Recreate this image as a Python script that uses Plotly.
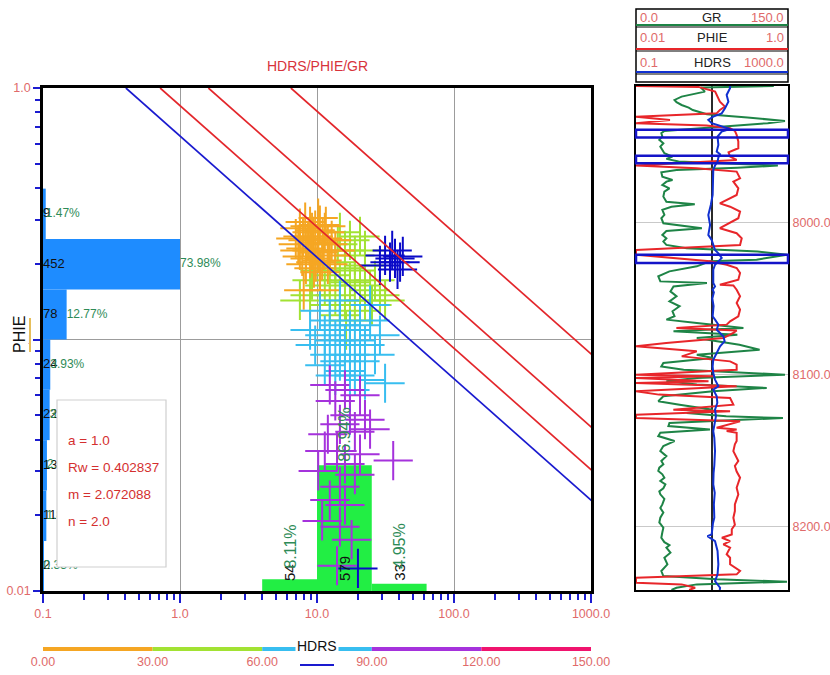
import numpy as np
import plotly.graph_objects as go

W, H = 830, 675
FONT = "Liberation Sans, Arial"
LABEL_RED = "#E06A6A"
TITLE_RED = "#D8333B"
TEXT_RED = "#D42F2F"
TICK_BLUE = "#1C1CD0"
GRID = "#9C9C9C"
PCT_GREEN = "#2E8B57"

# ---------------- Archie / Pickett parameters ----------------
a_param = 1.0
rw = 0.402837
m_exp = 2.072088
n_exp = 2.0
sw_lines = [1.0, 0.75, 0.5, 0.25]

# ---------------- crossplot samples (HDRS ohm.m, PHIE v/v, GR API) ----------------
hdrs_pts = [
    14.7, 17.4, 20.6, 16.0, 18.9, 13.6, 16.0, 18.9, 22.4, 12.4, 14.7, 17.4, 20.6, 24.4, 26.5, 28.8, 11.4,
    8.9, 7.5, 13.6, 16.0, 18.9, 22.4, 14.7, 17.4, 20.6, 12.4, 10.5, 14.2, 22.4, 9.2, 25.2, 31.4, 16.3,
    7.5, 8.2, 8.9, 9.7, 10.5, 11.4, 7.9, 8.6, 9.4, 10.2, 11.0, 12.0, 7.3, 8.3, 9.2, 10.2, 11.2, 12.4,
    7.8, 8.9, 9.8, 10.9, 12.0, 9.5, 10.5, 8.3, 7.5, 7.0, 12.8, 10.2, 9.2, 11.6, 10.5, 8.0, 13.6,
    10.5, 12.4, 14.7, 17.4, 20.6, 24.4, 11.4, 13.6, 16.0, 18.9, 22.4, 9.7, 8.9, 12.4, 14.7, 17.4,
    20.6, 26.5, 16.0, 18.9, 13.6, 31.4, 22.4, 17.4, 11.4, 28.8, 24.4, 14.7,
    12.4, 16.0, 20.6, 13.6, 17.4, 22.4, 14.7, 18.9, 24.4, 12.0, 14.0, 11.4, 36.0, 18.9, 14.7, 12.4,
    16.0, 10.9, 14.7, 17.9, 14.0, 10.2, 20.6, 16.0,
]
phie_pts = [
    0.267, 0.248, 0.257, 0.226, 0.216, 0.203, 0.192, 0.188, 0.197, 0.180, 0.172, 0.169, 0.164, 0.157,
    0.172, 0.150, 0.164, 0.150, 0.143, 0.150, 0.143, 0.137, 0.143, 0.125, 0.119, 0.130, 0.137, 0.188,
    0.239, 0.226, 0.172, 0.137, 0.143, 0.109,
    0.277, 0.293, 0.282, 0.272, 0.285, 0.267, 0.257, 0.248, 0.257, 0.243, 0.252, 0.239, 0.239, 0.230,
    0.226, 0.222, 0.226, 0.216, 0.214, 0.210, 0.203, 0.206, 0.199, 0.192, 0.185, 0.199, 0.226, 0.252,
    0.248, 0.304, 0.267, 0.282, 0.157, 0.157, 0.226,
    0.130, 0.119, 0.114, 0.109, 0.114, 0.119, 0.104, 0.099, 0.095, 0.099, 0.095, 0.095, 0.109, 0.087,
    0.082, 0.087, 0.082, 0.087, 0.075, 0.072, 0.072, 0.067, 0.069, 0.063, 0.079, 0.104, 0.137, 0.143,
    0.066, 0.063, 0.060, 0.057, 0.050, 0.048, 0.046, 0.043, 0.044, 0.042, 0.036, 0.036, 0.033, 0.029,
    0.026, 0.023, 0.022, 0.019, 0.018, 0.016, 0.0126, 0.030, 0.035, 0.032,
]
gr_pts = [
    35, 40, 38, 42, 45, 33, 37, 48, 50, 36, 41, 44, 52, 55, 49, 57, 34, 39, 46, 43, 51, 47, 54, 53, 58,
    56, 32, 31, 36, 44, 38, 59, 52, 57,
    18, 15, 20, 22, 17, 24, 19, 21, 16, 23, 25, 27, 14, 18, 20, 22, 26, 28, 17, 21, 24, 26, 28, 25, 27,
    23, 19, 13, 26, 14, 17, 21, 28, 27, 29,
    65, 70, 68, 75, 80, 72, 78, 66, 83, 71, 85, 62, 74, 77, 81, 69, 86, 73, 79, 84, 67, 76, 88, 82, 64,
    70, 63, 61,
    95, 100, 105, 98, 110, 102, 96, 112, 107, 104, 115, 99, 118, 108, 101, 113, 97, 106, 111, 103, 109,
    116, 94, 117,
]

# samples from the highlighted intervals
zone_hdrs = [31.4, 34.1, 37.1, 40.4, 42.3, 35.4, 28.8, 38.7, 19.9]
zone_phie = [0.216, 0.203, 0.210, 0.203, 0.214, 0.226, 0.197, 0.190, 0.0123]

# ---------------- histograms ----------------
phie_bin_edges = [0.01, 0.0158, 0.0251, 0.0398, 0.0631, 0.1, 0.158, 0.251, 0.398]
phie_counts = [2, 11, 13, 22, 24, 78, 452, 9]
hdrs_bin_edges = [3.98, 10.0, 25.1, 63.1]
hdrs_counts = [54, 579, 33]

# ---------------- GR colour classes ----------------
gr_class_bounds = [0, 30, 60, 90, 120, 150]
gr_class_colors = ["#F5A623", "#A2E233", "#38BEF0", "#A532DC", "#F0146E"]

# ---------------- well log curves (depth ft, value) ----------------
gr_log = [
    (7910.0, 136), (7911.0, 64), (7913.7, 68), (7914.8, 60), (7917.0, 45), (7919.2, 38), (7920.7, 40),
    (7922.5, 45), (7924.2, 52), (7925.8, 56), (7927.3, 65), (7928.6, 70), (7930.8, 110), (7933.0, 147),
    (7934.5, 130), (7936.1, 100), (7937.8, 60), (7939.6, 28), (7941.1, 25), (7943.3, 26), (7945.5, 23),
    (7947.7, 27), (7949.9, 24), (7952.1, 26), (7954.3, 28), (7956.5, 36), (7958.0, 30), (7959.8, 42),
    (7961.3, 90), (7962.4, 140), (7963.8, 100), (7965.3, 40), (7966.8, 25), (7969.7, 26), (7971.9, 36),
    (7973.0, 30), (7975.2, 26), (7977.4, 33), (7979.6, 28), (7982.9, 27), (7986.2, 30), (7987.9, 58),
    (7989.5, 35), (7991.6, 26), (7994.9, 28), (7997.1, 25), (8000.4, 27), (8003.7, 65), (8005.5, 30),
    (8008.1, 26), (8010.3, 30), (8012.5, 27), (8014.7, 30), (8016.9, 50), (8019.1, 120), (8021.1, 149),
    (8024.4, 119), (8025.5, 73), (8028.8, 60), (8032.1, 33), (8035.4, 22), (8038.7, 24), (8039.8, 70),
    (8042.0, 37), (8045.3, 34), (8048.5, 40), (8051.9, 33), (8055.1, 43), (8058.4, 36), (8061.7, 38),
    (8063.9, 30), (8065.0, 43), (8066.1, 60), (8069.4, 106), (8071.6, 37), (8073.8, 100), (8076.0, 60),
    (8078.2, 80), (8080.4, 102), (8083.7, 122), (8087.0, 60), (8089.2, 76), (8092.5, 27), (8094.7, 25),
    (8096.9, 47), (8100.2, 147), (8102.3, 60), (8104.5, 30), (8106.7, 60), (8108.9, 129), (8111.1, 76),
    (8114.4, 27), (8117.7, 22), (8119.9, 43), (8123.2, 76), (8125.4, 50), (8127.6, 89), (8128.7, 145),
    (8130.9, 60), (8132.0, 33), (8134.0, 32), (8136.2, 73), (8138.4, 24), (8140.6, 22), (8143.9, 38),
    (8147.2, 27), (8150.5, 24), (8153.8, 30), (8157.0, 25), (8159.2, 27), (8161.4, 23), (8163.6, 22),
    (8165.8, 26), (8168.0, 28), (8170.2, 24), (8172.4, 29), (8175.0, 27), (8177.0, 23), (8179.0, 24),
    (8182.0, 28), (8185.6, 26), (8188.0, 24), (8191.0, 27), (8194.4, 24), (8197.5, 23), (8201.0, 27),
    (8204.0, 26), (8207.6, 25), (8210.5, 28), (8212.5, 33), (8214.1, 30), (8217.4, 34), (8220.7, 28),
    (8225.1, 31), (8229.5, 25), (8232.8, 27), (8235.0, 80), (8236.5, 149), (8238.3, 60), (8240.5, 40),
    (8242.0, 35),
]
phie_log = [
    (7910.0, 0.01), (7910.6, 0.066), (7913.7, 0.11), (7915.9, 0.115), (7918.1, 0.12), (7920.3, 0.127),
    (7923.6, 0.148), (7925.8, 0.127), (7928.0, 0.115), (7930.2, 0.01), (7932.4, 0.028), (7934.5, 0.01),
    (7936.1, 0.085), (7937.8, 0.173), (7939.6, 0.2), (7942.2, 0.211), (7946.5, 0.222), (7951.0, 0.222),
    (7953.7, 0.165), (7956.5, 0.173), (7958.7, 0.211), (7960.9, 0.038), (7962.4, 0.01), (7964.2, 0.063),
    (7966.4, 0.211), (7970.8, 0.234), (7973.0, 0.191), (7977.4, 0.222), (7981.8, 0.211), (7987.3, 0.127),
    (7989.5, 0.173), (7992.7, 0.234), (7997.1, 0.222), (8003.7, 0.127), (8007.0, 0.211), (8010.3, 0.246),
    (8014.7, 0.234), (8018.0, 0.01), (8021.1, 0.01), (8025.5, 0.094), (8027.7, 0.156), (8029.9, 0.211),
    (8033.2, 0.234), (8037.6, 0.222), (8040.9, 0.127), (8041.4, 0.191), (8044.2, 0.211), (8048.5, 0.234),
    (8052.9, 0.211), (8057.3, 0.234), (8061.7, 0.222), (8065.0, 0.173), (8067.2, 0.156), (8069.4, 0.034),
    (8071.0, 0.211), (8072.7, 0.191), (8076.0, 0.141), (8079.3, 0.025), (8081.5, 0.01), (8084.8, 0.063),
    (8088.1, 0.04), (8091.4, 0.173), (8093.6, 0.211), (8096.9, 0.211), (8100.2, 0.01), (8101.2, 0.104),
    (8102.3, 0.01), (8104.5, 0.09), (8105.6, 0.01), (8107.8, 0.211), (8111.1, 0.01), (8113.3, 0.02),
    (8115.5, 0.173), (8119.9, 0.191), (8123.2, 0.031), (8124.3, 0.173), (8126.5, 0.01), (8128.7, 0.01),
    (8130.9, 0.234), (8135.1, 0.115), (8136.2, 0.211), (8137.3, 0.156), (8138.4, 0.211), (8143.9, 0.211),
    (8146.0, 0.2), (8150.5, 0.191), (8154.9, 0.211), (8157.0, 0.222), (8160.3, 0.2), (8164.0, 0.211),
    (8168.0, 0.234), (8171.0, 0.222), (8174.6, 0.211), (8179.0, 0.222), (8182.0, 0.211), (8185.6, 0.2),
    (8190.0, 0.2), (8194.4, 0.191), (8199.0, 0.2), (8202.0, 0.182), (8205.4, 0.182), (8207.6, 0.135),
    (8209.8, 0.173), (8212.0, 0.141), (8214.1, 0.173), (8218.5, 0.156), (8220.7, 0.173), (8225.1, 0.173),
    (8229.5, 0.234), (8231.7, 0.211), (8234.0, 0.01), (8237.2, 0.01), (8238.3, 0.04), (8240.5, 0.06),
    (8242.0, 0.05),
]
hdrs_log = [
    (7910.0, 29.8), (7911.5, 29.8), (7915.9, 24.3), (7920.3, 27), (7924.7, 22), (7928.0, 18),
    (7930.2, 10.8), (7932.4, 8.0), (7934.5, 9.8), (7936.7, 19.9), (7938.3, 29.8), (7940.0, 18),
    (7943.3, 14), (7948.8, 14.7), (7953.2, 13.3), (7955.0, 16.3), (7957.2, 14.7), (7959.8, 14),
    (7962.4, 12), (7965.3, 10.8), (7973.0, 10.8), (7981.8, 10.4), (7988.4, 9.3), (7995.0, 8.0),
    (8001.5, 8.9), (8008.1, 8.0), (8011.4, 9.8), (8014.7, 10.8), (8018.0, 12), (8020.2, 14.7),
    (8023.3, 18), (8025.5, 14.7), (8027.7, 12), (8031.0, 10.8), (8039.8, 10.8), (8042.0, 12),
    (8044.2, 10.4), (8046.0, 11.2), (8050.0, 10.2), (8055.0, 11.0), (8061.7, 10.4), (8063.9, 12),
    (8067.2, 14.7), (8070.5, 13.3), (8074.9, 19.9), (8078.2, 21.5), (8081.5, 16.3), (8085.9, 13.3),
    (8090.3, 10.8), (8094.7, 10.4), (8099.1, 10.8), (8103.4, 12), (8107.8, 14.7), (8110.0, 10.8),
    (8114.4, 13.3), (8118.8, 13.8), (8123.2, 12), (8127.6, 12.7), (8132.0, 12), (8137.3, 10.8),
    (8141.7, 11.5), (8150.5, 12), (8160.0, 11.5), (8165.0, 11.0), (8172.4, 10.8), (8178.0, 11.8),
    (8185.6, 11.2), (8194.4, 11.5), (8198.0, 10.6), (8205.4, 9.8), (8206.5, 7.6), (8209.8, 12),
    (8216.3, 14), (8225.1, 14.7), (8231.7, 14), (8236.1, 12), (8240.5, 16.3), (8242.0, 16),
]
zone_top = [7938.9, 7955.9, 8021.1]
zone_base = [7944.0, 7960.9, 8026.6]
depth_range = [7910, 8242]
depth_ticks = [8000, 8100, 8200]

curve_names = ["GR", "PHIE", "HDRS"]
curve_lo = ["0.0", "0.01", "0.1"]
curve_hi = ["150.0", "1.0", "1000.0"]
curve_colors = ["#1E8446", "#E8262A", "#1030D0"]


# ---------------- helpers: pixel -> paper ----------------
def fx(px):
    return px / W


def fy(py):
    return 1 - py / H


XL, XR, YT, YB = 43, 591, 88, 591          # Pickett plot frame
TL, TR, TT, TB = 636, 788, 86, 590         # log track frame
XD = [fx(XL), fx(XR)]
YD = [fy(YB), fy(YT)]
plot_h = YB - YT

fig = go.Figure()

# anchor trace so the main log-log subplot exists underneath the overlays
fig.add_trace(go.Scatter(x=[1], y=[0.1], mode="markers", marker=dict(opacity=0),
                         xaxis="x", yaxis="y", hoverinfo="skip"))

# ---- PHIE histogram (horizontal bars) ----
pe = np.log10(phie_bin_edges)
phie_centers = (pe[:-1] + pe[1:]) / 2
phie_widths = np.diff(pe)
phie_total = sum(phie_counts)
phie_pct = [f"{100 * c / phie_total:.2f}%" for c in phie_counts]
fig.add_trace(go.Bar(x=phie_counts, y=phie_centers, width=phie_widths, orientation="h",
                     marker=dict(color="#1E8CFF", line=dict(width=0)),
                     xaxis="x2", yaxis="y2", hoverinfo="skip"))
fig.add_trace(go.Scatter(x=[0] * len(phie_counts), y=phie_centers, mode="text",
                         text=[str(c) for c in phie_counts], textposition="middle right",
                         textfont=dict(family=FONT, size=13, color="#111111"),
                         xaxis="x2", yaxis="y2", hoverinfo="skip"))
fig.add_trace(go.Scatter(x=phie_counts, y=phie_centers, mode="text", text=phie_pct,
                         textposition="middle right",
                         textfont=dict(family=FONT, size=12, color=PCT_GREEN),
                         xaxis="x2", yaxis="y2", hoverinfo="skip"))

# ---- HDRS histogram (vertical bars) ----
he = np.log10(hdrs_bin_edges)
hdrs_centers = (he[:-1] + he[1:]) / 2
hdrs_widths = np.diff(he)
hdrs_total = sum(hdrs_counts)
fig.add_trace(go.Bar(x=hdrs_centers, y=hdrs_counts, width=hdrs_widths,
                     marker=dict(color="#22EE44", line=dict(width=0)),
                     xaxis="x3", yaxis="y3", hoverinfo="skip"))

# ---- crossplot points, coloured by GR class ----
span = gr_class_bounds[-1] - gr_class_bounds[0]
gr_colorscale = []
for i, c in enumerate(gr_class_colors):
    gr_colorscale.append([(gr_class_bounds[i] - gr_class_bounds[0]) / span, c])
    gr_colorscale.append([(gr_class_bounds[i + 1] - gr_class_bounds[0]) / span, c])

fig.add_trace(go.Scatter(x=hdrs_pts, y=phie_pts, mode="markers",
                         marker=dict(symbol="cross-thin-open", size=28, color=gr_pts,
                                     colorscale=gr_colorscale, cmin=gr_class_bounds[0],
                                     cmax=gr_class_bounds[-1], line=dict(width=2)),
                         xaxis="x5", yaxis="y5", hoverinfo="skip"))
fig.add_trace(go.Scatter(x=zone_hdrs, y=zone_phie, mode="markers",
                         marker=dict(symbol="cross-thin-open", size=28, color="#0A0AC8",
                                     line=dict(width=2)),
                         xaxis="x5", yaxis="y5", hoverinfo="skip"))

# ---- saturation lines: Rt = a*Rw / (phi^m * Sw^n) ----
phi_ends = np.array([1.0, 0.01])
for sw in sw_lines:
    rt = a_param * rw / (phi_ends ** m_exp * sw ** n_exp)
    fig.add_trace(go.Scatter(x=rt, y=phi_ends, mode="lines",
                             line=dict(color="#1A1ACF" if sw == 1.0 else "#E3262B", width=1.7),
                             xaxis="x5", yaxis="y5", hoverinfo="skip"))

# ---- GR colour key ----
for i, c in enumerate(gr_class_colors):
    fig.add_trace(go.Scatter(x=[gr_class_bounds[i], gr_class_bounds[i + 1]], y=[0.5, 0.5],
                             mode="lines", line=dict(color=c, width=4),
                             xaxis="x9", yaxis="y9", hoverinfo="skip"))

# ---- log track curves ----
gr_depth, gr_vals = zip(*gr_log)
phie_depth, phie_vals = zip(*phie_log)
hdrs_depth, hdrs_vals = zip(*hdrs_log)
fig.add_trace(go.Scatter(x=gr_vals, y=gr_depth, mode="lines",
                         line=dict(color=curve_colors[0], width=2), xaxis="x6", yaxis="y6",
                         hoverinfo="skip"))
fig.add_trace(go.Scatter(x=phie_vals, y=phie_depth, mode="lines",
                         line=dict(color=curve_colors[1], width=2), xaxis="x7", yaxis="y6",
                         hoverinfo="skip"))
fig.add_trace(go.Scatter(x=hdrs_vals, y=hdrs_depth, mode="lines",
                         line=dict(color=curve_colors[2], width=2), xaxis="x8", yaxis="y6",
                         hoverinfo="skip"))

# ---------------- axes ----------------
minor_x = [k * 10.0 ** e for e in range(-1, 3) for k in range(2, 10)]
minor_y = [k * 10.0 ** e for e in range(-2, 0) for k in range(2, 10)]
lab_font = dict(family=FONT, size=12.5, color=LABEL_RED)

hist_scale = 4  # largest bar spans one decade of the four-decade frame

layout = dict(
    width=W, height=H, margin=dict(l=0, r=0, t=0, b=0, autoexpand=False),
    paper_bgcolor="white", plot_bgcolor="white", showlegend=False, hovermode=False,
    font=dict(family=FONT),
    xaxis=dict(type="log", range=[-1, 3], domain=XD, anchor="y", automargin=False,
               tickvals=[0.1, 1, 10, 100, 1000], ticktext=["0.1", "1.0", "10.0", "100.0", "1000.0"],
               ticks="outside", ticklen=9, tickwidth=2, tickcolor=TICK_BLUE,
               minor=dict(tickvals=minor_x, ticks="outside", ticklen=6, tickwidth=2,
                          tickcolor=TICK_BLUE, showgrid=False),
               showgrid=True, gridcolor=GRID, gridwidth=1.3, zeroline=False,
               showline=True, linecolor="black", linewidth=2.5, mirror=True, tickfont=lab_font),
    yaxis=dict(type="log", range=[-2, 0], domain=YD, anchor="x", automargin=False,
               tickvals=[0.01, 0.1, 1], ticktext=["0.01", "0.1", "1.0"],
               ticks="outside", ticklen=7, tickwidth=2, tickcolor=TICK_BLUE,
               minor=dict(tickvals=minor_y, ticks="outside", ticklen=5, tickwidth=2,
                          tickcolor=TICK_BLUE, showgrid=False),
               showgrid=True, gridcolor=GRID, gridwidth=1.3, zeroline=False,
               showline=True, linecolor="black", linewidth=2.5, mirror=True, tickfont=lab_font),
    xaxis2=dict(overlaying="x", anchor="y2", domain=XD, automargin=False,
                range=[0, hist_scale * max(phie_counts)], visible=False),
    yaxis2=dict(overlaying="y", anchor="x2", domain=YD, automargin=False, range=[-2, 0],
                visible=False),
    xaxis3=dict(overlaying="x", anchor="y3", domain=XD, automargin=False, range=[-1, 3],
                visible=False),
    yaxis3=dict(overlaying="y", anchor="x3", domain=YD, automargin=False,
                range=[0, hist_scale * max(hdrs_counts)], visible=False),
    xaxis5=dict(overlaying="x", anchor="y5", domain=XD, automargin=False, type="log",
                range=[-1, 3], visible=False),
    yaxis5=dict(overlaying="y", anchor="x5", domain=YD, automargin=False, type="log",
                range=[-2, 0], visible=False),
    xaxis9=dict(domain=XD, anchor="y9", automargin=False,
                range=[gr_class_bounds[0], gr_class_bounds[-1]],
                tickvals=gr_class_bounds, ticktext=[f"{b:.2f}" for b in gr_class_bounds],
                ticks="", showgrid=False, zeroline=False, showline=False, tickfont=lab_font),
    yaxis9=dict(domain=[fy(652), fy(646)], anchor="x9", automargin=False, range=[0, 1],
                visible=False),
    xaxis6=dict(domain=[fx(TL), fx(TR)], anchor="y6", automargin=False, range=[0, 150],
                showticklabels=False, ticks="", showgrid=False, zeroline=False, showline=True,
                linecolor="black", linewidth=2, mirror=True),
    xaxis7=dict(overlaying="x6", anchor="y6", domain=[fx(TL), fx(TR)], automargin=False,
                type="log", range=[-2, 0], visible=False),
    xaxis8=dict(overlaying="x6", anchor="y6", domain=[fx(TL), fx(TR)], automargin=False,
                type="log", range=[-1, 3], tickvals=[10],
                showticklabels=False, ticks="", showgrid=True, gridcolor="#2A2A2A", gridwidth=1.5,
                zeroline=False, showline=False),
    yaxis6=dict(domain=[fy(TB), fy(TT)], anchor="x6", side="right", automargin=False,
                range=[depth_range[1], depth_range[0]], tickvals=depth_ticks,
                ticktext=[f"{d:.1f}" for d in depth_ticks], ticks="",
                tickfont=dict(family=FONT, size=12.5, color=LABEL_RED),
                showgrid=True, gridcolor="#C9C9C9", gridwidth=1, zeroline=False,
                showline=True, linecolor="black", linewidth=2, mirror=True),
)
fig.update_layout(**layout)

# ---------------- annotations ----------------
ann = []


def paper_text(text, px, py, size, color, xanchor="center", **kw):
    return dict(text=text, x=fx(px), y=fy(py), xref="paper", yref="paper", xanchor=xanchor,
                yanchor="middle", showarrow=False, font=dict(family=FONT, size=size, color=color),
                **kw)


ann.append(paper_text("HDRS/PHIE/GR", 317, 66, 14, TITLE_RED))

# HDRS histogram labels (rotated)
for xc, c in zip(hdrs_centers, hdrs_counts):
    bar_px = c / (hist_scale * max(hdrs_counts)) * plot_h
    ann.append(dict(text=str(c), x=xc, y=0, xref="x3", yref="y3", textangle=-90,
                    xanchor="center", yanchor="bottom", yshift=8, showarrow=False,
                    font=dict(family=FONT, size=15, color="#111111")))
    ann.append(dict(text=f"{100 * c / hdrs_total:.2f}%", x=xc, y=0, xref="x3", yref="y3",
                    textangle=-90, xanchor="center", yanchor="bottom",
                    yshift=max(bar_px + 2, 20), showarrow=False,
                    font=dict(family=FONT, size=16, color=PCT_GREEN)))

# Archie parameter box text
params = [f"a = {a_param}", f"Rw = {rw}", f"m = {m_exp}", f"n = {n_exp}"]
for i, t in enumerate(params):
    ann.append(paper_text(t, 66, 440 + 27 * i, 13.5, TEXT_RED, xanchor="left"))

# vertical axis title
ann.append(paper_text("PHIE", 20, 335, 16, "#111111", textangle=-90, bgcolor="white",
                      borderpad=0))

# colour key title
ann.append(dict(text="HDRS", x=(gr_class_bounds[0] + gr_class_bounds[-1]) / 2, y=0.5,
                xref="x9", yref="y9", xanchor="center", yanchor="middle", yshift=3,
                showarrow=False, bgcolor="white", borderpad=1,
                font=dict(family=FONT, size=14, color="#111111")))

# log header text
row_y = [17, 38, 62]
for name, lo, hi, ry in zip(curve_names, curve_lo, curve_hi, row_y):
    ann.append(paper_text(lo, TL + 2, ry, 13, LABEL_RED, xanchor="left"))
    ann.append(paper_text(name, (TL + TR) / 2, ry, 13, "#222222"))
    ann.append(paper_text(hi, TR - 2, ry, 13, LABEL_RED, xanchor="right"))
fig.update_layout(annotations=ann)

# ---------------- shapes ----------------
shapes = []
# Archie parameter box (covers histogram labels underneath)
shapes.append(dict(type="rect", xref="paper", yref="paper", x0=fx(57), x1=fx(166), y0=fy(567),
                   y1=fy(400), fillcolor="white", line=dict(color="#CFCFCF", width=1.2),
                   layer="above"))
# PHIE title underline
shapes.append(dict(type="line", xref="paper", yref="paper", x0=fx(30), x1=fx(30), y0=fy(352),
                   y1=fy(318), line=dict(color="#E6BE5A", width=2)))
# HDRS key underline
shapes.append(dict(type="line", xref="paper", yref="paper", x0=fx(300), x1=fx(334), y0=fy(665),
                   y1=fy(665), line=dict(color="#1A1ACF", width=2)))
# highlighted intervals
for z0, z1 in zip(zone_top, zone_base):
    shapes.append(dict(type="rect", xref="x6 domain", yref="y6", x0=0, x1=1, y0=z0, y1=z1,
                       line=dict(color="#1414C8", width=2.5), fillcolor="rgba(0,0,0,0)",
                       layer="above"))
# log header frame
shapes.append(dict(type="rect", xref="paper", yref="paper", x0=fx(TL), x1=fx(TR), y0=fy(82),
                   y1=fy(9), line=dict(color="black", width=1.5)))
for ly, col in zip([25, 49, 72], curve_colors):
    shapes.append(dict(type="line", xref="paper", yref="paper", x0=fx(TL), x1=fx(TR),
                       y0=fy(ly), y1=fy(ly), line=dict(color=col, width=2)))
    shapes.append(dict(type="line", xref="paper", yref="paper", x0=fx(TL), x1=fx(TR),
                       y0=fy(ly + 2), y1=fy(ly + 2), line=dict(color="black", width=1)))
fig.update_layout(shapes=shapes)

fig.write_html("out.html")
